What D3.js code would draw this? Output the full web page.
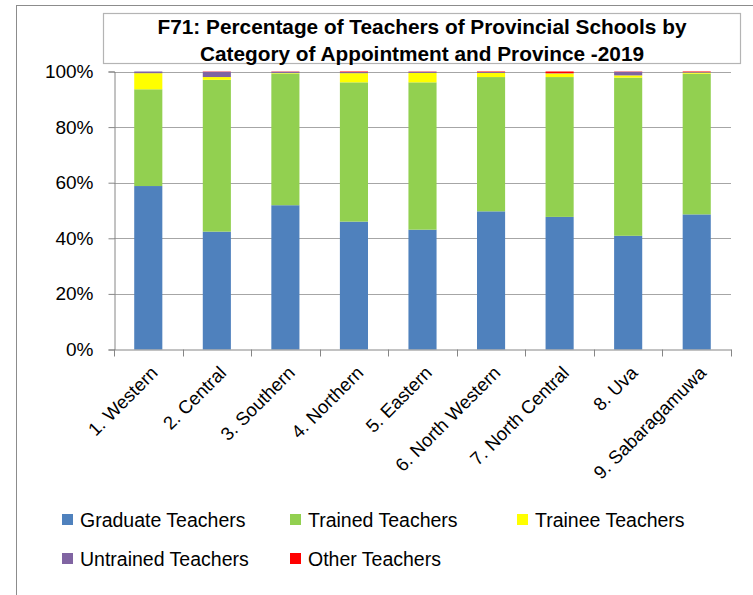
<!DOCTYPE html>
<html>
<head>
<meta charset="utf-8">
<script src="https://cdn.jsdelivr.net/npm/d3@7"></script>
<style>
  html, body { margin: 0; padding: 0; background: #fff; }
  svg { display: block; font-family: "Liberation Sans", Arial, sans-serif; }
</style>
</head>
<body>
<svg id="chart" width="753" height="595"></svg>
<script>
// Provinces along the x axis
const provinces = ["1. Western", "2. Central", "3. Southern", "4. Northern", "5. Eastern",
                   "6. North Western", "7. North Central", "8. Uva", "9. Sabaragamuwa"];

// Share of teachers (%) by category of appointment, per province
const graduateTeachers  = [58.8, 42.4, 51.9, 46.0, 43.1, 49.7, 47.7, 40.9, 48.6];
const trainedTeachers   = [34.8, 54.6, 47.4, 50.1, 53.0, 48.3, 50.3, 56.9, 50.6];
const traineeTeachers   = [5.8, 1.0, 0.2, 3.3, 3.4, 1.5, 1.3, 0.8, 0.4];
const untrainedTeachers = [0.6, 1.9, 0.4, 0.4, 0.4, 0.3, 0.1, 1.3, 0.2];
const otherTeachers     = [0.0, 0.1, 0.1, 0.2, 0.1, 0.2, 0.6, 0.1, 0.2];

const seriesNames = ["Graduate Teachers", "Trained Teachers", "Trainee Teachers",
                     "Untrained Teachers", "Other Teachers"];
const seriesColors = ["#4F81BD", "#92D050", "#FFFF00", "#8064A2", "#FF0000"];
const yTicks = [0, 20, 40, 60, 80, 100];

const titleLines = ["F71: Percentage of Teachers of Provincial Schools by",
                    "Category of Appointment and Province -2019"];

const seriesValues = [graduateTeachers, trainedTeachers, traineeTeachers, untrainedTeachers, otherTeachers];
const rows = provinces.map((p, i) => {
  const r = { province: p };
  seriesNames.forEach((s, k) => { r[s] = seriesValues[k][i]; });
  return r;
});

const svg = d3.select("#chart");

// Outer chart frame
svg.append("rect")
  .attr("x", 16.5).attr("y", 5.5)
  .attr("width", 760).attr("height", 620)
  .attr("fill", "none").attr("stroke", "#8c8c8c").attr("stroke-width", 1);

// Title box
svg.append("rect")
  .attr("x", 103.5).attr("y", 13.5)
  .attr("width", 637).attr("height", 50)
  .attr("fill", "#fff").attr("stroke", "#b4b4b4").attr("stroke-width", 1.2);

svg.append("g").selectAll("text")
  .data(titleLines).join("text")
  .attr("x", 422).attr("y", (d, i) => 34 + i * 27)
  .attr("text-anchor", "middle")
  .attr("font-weight", "bold").attr("font-size", 20.8)
  .attr("fill", "#000")
  .text(d => d);

const plot = { left: 114, right: 731, top: 71.5, bottom: 349.5 };

const x = d3.scaleBand().domain(provinces)
  .range([plot.left, plot.right]).paddingInner(0.59).paddingOuter(0.295);
const xb = d3.scaleBand().domain(provinces).range([plot.left, plot.right]);
const y = d3.scaleLinear().domain([0, 100]).range([plot.bottom, plot.top]);

// Gridlines
svg.append("g").selectAll("line")
  .data(yTicks.filter(t => t > 0)).join("line")
  .attr("x1", plot.left).attr("x2", plot.right)
  .attr("y1", d => Math.round(y(d)) + 0.5).attr("y2", d => Math.round(y(d)) + 0.5)
  .attr("stroke", "#a6a6a6").attr("stroke-width", 1);

// Stacked bars
const stack = d3.stack().keys(seriesNames);
const layers = stack(rows);

svg.append("g").selectAll("g")
  .data(layers).join("g")
  .attr("fill", (d, i) => seriesColors[i])
  .selectAll("rect")
  .data(d => d).join("rect")
  .attr("x", d => x(d.data.province))
  .attr("width", x.bandwidth())
  .attr("y", d => y(d[1]))
  .attr("height", d => Math.max(0, y(d[0]) - y(d[1])));

// Y axis
const yAxis = d3.axisLeft(y).tickValues(yTicks).tickFormat(d => d + "%").tickSize(6);
const gy = svg.append("g").attr("transform", `translate(${plot.left + 0.5},0)`).call(yAxis);
gy.select(".domain").attr("stroke", "#868686");
gy.selectAll(".tick line").attr("stroke", "#868686");
gy.selectAll(".tick text")
  .attr("x", -21).attr("font-size", 19).attr("fill", "#000")
  .attr("font-family", "Liberation Sans, Arial, sans-serif");

// X axis: baseline with ticks on the category boundaries
const gx = svg.append("g");
gx.append("line")
  .attr("x1", plot.left).attr("x2", plot.right + 0.5)
  .attr("y1", plot.bottom + 0.5).attr("y2", plot.bottom + 0.5)
  .attr("stroke", "#868686");
const bounds = provinces.map(p => xb(p)).concat([plot.right]);
gx.selectAll("line.tick").data(bounds).join("line").attr("class", "tick")
  .attr("x1", d => Math.round(d) + 0.5).attr("x2", d => Math.round(d) + 0.5)
  .attr("y1", plot.bottom).attr("y2", plot.bottom + 7)
  .attr("stroke", "#868686");

gx.selectAll("text").data(provinces).join("text")
  .attr("transform", d => `translate(${xb(d) + xb.bandwidth() / 2 + 6},${plot.bottom + 20}) rotate(-45)`)
  .attr("text-anchor", "end")
  .attr("dy", "0.35em")
  .attr("font-size", 18.5).attr("fill", "#000")
  .text(d => d);

// Legend
const legendPos = [
  { x: 62, y: 520 }, { x: 290, y: 520 }, { x: 517, y: 520 },
  { x: 62, y: 559 }, { x: 290, y: 559 }
];
const lg = svg.append("g").selectAll("g")
  .data(seriesNames).join("g")
  .attr("transform", (d, i) => `translate(${legendPos[i].x},${legendPos[i].y})`);
lg.append("rect")
  .attr("x", 0).attr("y", -6).attr("width", 11).attr("height", 11)
  .attr("fill", (d, i) => seriesColors[i]);
lg.append("text")
  .attr("x", 18).attr("y", 0).attr("dy", "0.35em")
  .attr("font-size", 19.5).attr("fill", "#000")
  .text(d => d);
</script>
</body>
</html>
